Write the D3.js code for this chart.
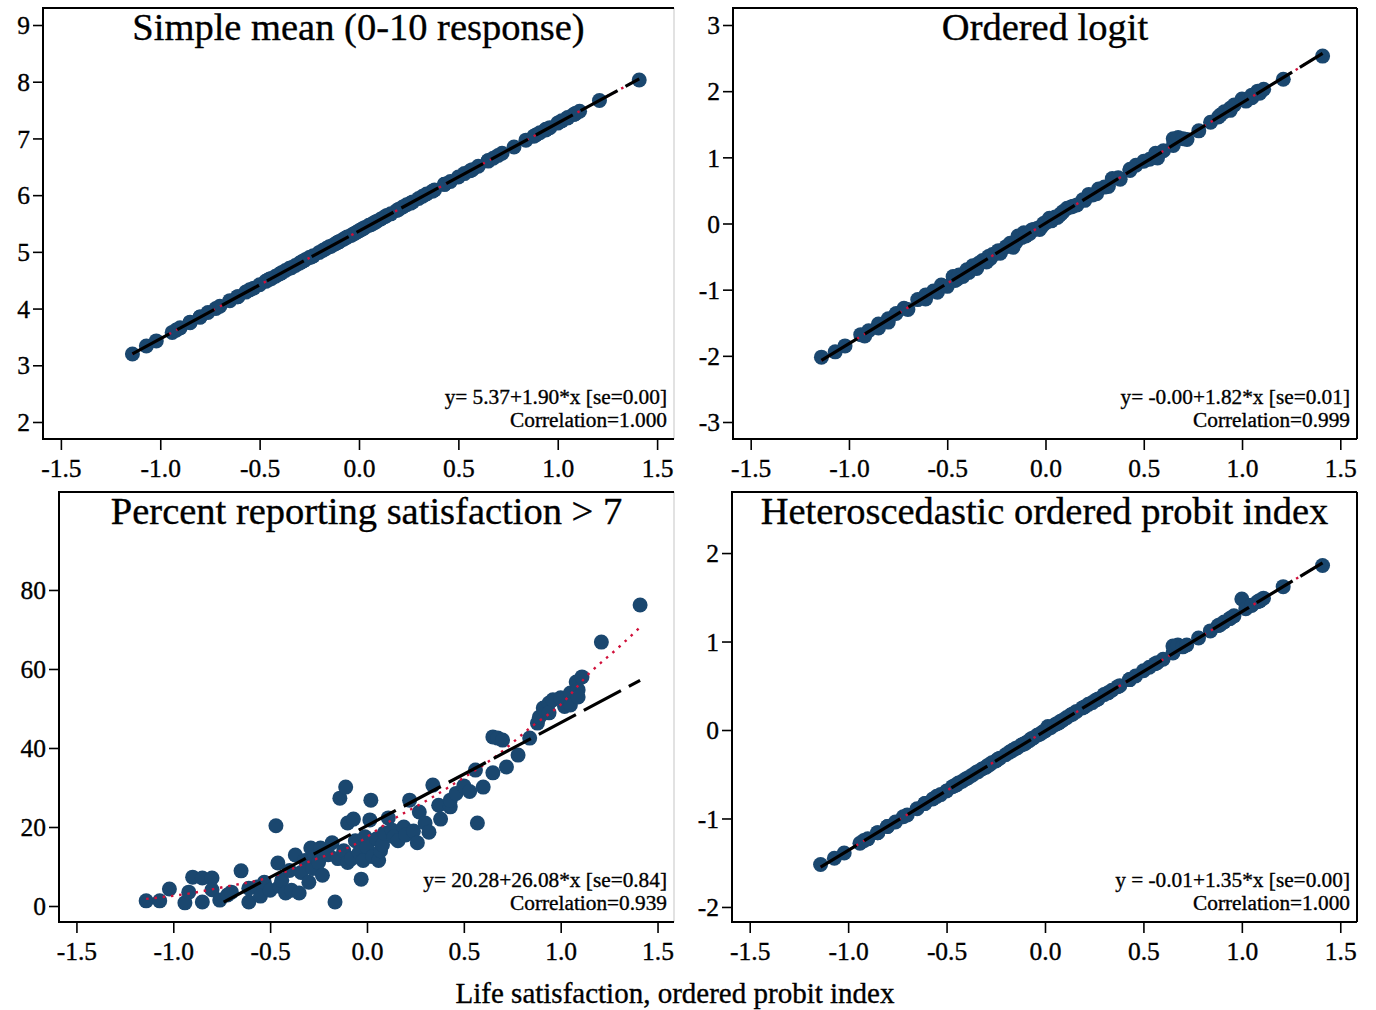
<!DOCTYPE html>
<html><head><meta charset="utf-8">
<script src="https://cdn.jsdelivr.net/npm/d3@7"></script>
<style>
html,body{margin:0;padding:0;background:#fff;}
svg{display:block;font-family:"Liberation Serif","Times New Roman",serif;}
svg text{stroke:#000;stroke-width:0.35px;}
</style></head>
<body>
<svg id="chart" width="1376" height="1010"></svg>
<script>
// Life satisfaction, ordered probit index (x, shared by all panels)
const probitIndex = [-1.14,-1.07,-1.02,-0.94,-0.92,-0.90,-0.85,-0.85,-0.80,-0.80,-0.76,-0.72,-0.70,-0.65,-0.61,-0.61,-0.57,-0.55,-0.53,-0.50,
 -0.47,-0.46,-0.45,-0.44,-0.42,-0.40,-0.39,-0.37,-0.35,-0.34,-0.32,-0.30,-0.29,-0.28,-0.27,-0.25,-0.24,-0.23,-0.20,-0.18,
 -0.165,-0.15,-0.14,-0.12,-0.11,-0.10,-0.10,-0.08,-0.07,-0.06,-0.04,-0.03,-0.02,-0.01,0.00,0.015,0.02,0.03,0.05,0.06,
 0.07,0.08,0.09,0.11,0.13,0.14,0.16,0.19,0.20,0.22,0.24,0.26,0.27,0.30,0.32,0.34,0.37,0.38,0.43,0.43,
 0.46,0.50,0.53,0.56,0.57,0.60,0.65,0.65,0.675,0.70,0.72,0.78,0.84,0.88,0.89,0.91,0.94,0.94,0.96,1.00,
 1.02,1.05,1.05,1.08,1.09,1.09,1.11,1.21,1.41];
// Simple mean (0-10 response)
const simpleMean = [3.20,3.34,3.43,3.58,3.62,3.66,3.76,3.75,3.85,3.85,3.93,4.00,4.04,4.14,4.21,4.21,4.29,4.33,4.36,4.42,
 4.48,4.50,4.52,4.53,4.57,4.61,4.63,4.67,4.71,4.72,4.76,4.80,4.82,4.84,4.86,4.90,4.91,4.93,4.99,5.03,
 5.06,5.09,5.10,5.14,5.16,5.18,5.18,5.22,5.24,5.26,5.29,5.31,5.33,5.35,5.37,5.40,5.41,5.43,5.47,5.48,
 5.50,5.52,5.54,5.58,5.62,5.64,5.67,5.73,5.75,5.79,5.83,5.86,5.88,5.94,5.98,6.02,6.07,6.09,6.19,6.19,
 6.24,6.32,6.38,6.43,6.45,6.51,6.61,6.60,6.65,6.70,6.74,6.85,6.97,7.04,7.06,7.10,7.16,7.15,7.19,7.27,
 7.31,7.37,7.36,7.42,7.44,7.44,7.48,7.67,8.03];
// Ordered logit
const orderedLogit = [-2.02,-1.94,-1.85,-1.68,-1.70,-1.62,-1.52,-1.58,-1.44,-1.49,-1.36,-1.28,-1.30,-1.15,-1.08,-1.14,-1.02,-1.04,-0.93,-0.95,
 -0.80,-0.86,-0.84,-0.78,-0.80,-0.70,-0.74,-0.64,-0.68,-0.60,-0.56,-0.58,-0.50,-0.53,-0.47,-0.45,-0.41,-0.45,-0.35,-0.30,
 -0.36,-0.28,-0.19,-0.21,-0.14,-0.15,-0.19,-0.15,-0.10,-0.09,-0.07,-0.09,-0.05,0.00,0.01,0.05,0.08,0.04,0.10,0.09,
 0.12,0.15,0.18,0.23,0.25,0.26,0.28,0.36,0.35,0.44,0.43,0.45,0.52,0.55,0.56,0.68,0.69,0.67,0.80,0.82,
 0.88,0.94,0.97,1.06,0.99,1.10,1.18,1.28,1.30,1.28,1.27,1.40,1.53,1.61,1.64,1.69,1.74,1.71,1.79,1.88,
 1.85,1.94,1.90,2.00,1.99,1.97,2.03,2.18,2.53];
// Percent reporting satisfaction > 7
const pctAbove7 = [1.3,1.3,4.3,0.8,3.5,7.3,7.1,1.0,7.1,4.1,1.5,2.8,3.5,8.9,1.0,4.5,4.8,2.5,6.0,4.0,
 20.3,10.9,5.0,6.5,3.3,9.0,4.0,12.9,3.3,8.5,11.5,6.0,14.7,9.5,12.5,11.0,14.7,7.8,13.0,16.0,
 1.0,12.0,27.3,14.0,30.1,21.0,11.0,12.0,22.0,16.5,13.5,6.8,11.5,17.5,15.0,21.8,26.8,12.5,17.0,11.5,
 14.0,15.5,18.5,22.3,19.2,17.5,16.5,20.0,18.0,26.8,19.0,16.0,23.8,21.0,18.7,30.6,25.5,22.0,25.1,26.8,
 28.5,30.4,29.0,34.4,21.0,30.1,33.7,42.8,42.5,42.0,35.2,38.2,42.5,46.3,47.8,50.1,51.4,48.9,52.2,52.7,
 50.5,53.9,50.9,56.7,54.7,52.9,58.0,66.8,76.2];
// Heteroscedastic ordered probit index
const hetProbit = [-1.52,-1.45,-1.39,-1.28,-1.25,-1.23,-1.16,-1.16,-1.09,-1.09,-1.04,-0.98,-0.96,-0.89,-0.83,-0.83,-0.78,-0.75,-0.73,-0.69,
 -0.64,-0.63,-0.62,-0.60,-0.58,-0.55,-0.54,-0.51,-0.48,-0.47,-0.44,-0.42,-0.40,-0.39,-0.37,-0.35,-0.33,-0.32,-0.28,-0.25,
 -0.23,-0.21,-0.20,-0.17,-0.16,-0.15,-0.15,-0.12,-0.10,-0.09,-0.06,-0.05,-0.04,-0.02,-0.01,0.04,0.02,0.03,0.06,0.07,
 0.08,0.10,0.11,0.14,0.17,0.18,0.21,0.25,0.26,0.29,0.31,0.34,0.35,0.40,0.42,0.45,0.49,0.50,0.57,0.57,
 0.61,0.67,0.71,0.75,0.76,0.80,0.87,0.95,0.96,0.94,0.96,1.04,1.12,1.18,1.19,1.22,1.26,1.26,1.29,1.48,
 1.37,1.41,1.41,1.45,1.46,1.46,1.49,1.62,1.86];

// Linear fit lines (endpoints) and smoothed curves
const fitX_mean = [-1.14, 1.41], fitY_mean = [3.20, 8.05];
const fitX_logit = [-1.14, 1.41], fitY_logit = [-2.07, 2.57];
const fitX_pct = [-0.74, 1.41], fitY_pct = [1.0, 57.1];
const fitX_het = [-1.14, 1.41], fitY_het = [-1.55, 1.89];
const smoothX_pct = [-1.14,-0.90,-0.74,-0.50,-0.28,-0.07,0.13,0.33,0.48,0.66,0.86,1.00,1.15,1.30,1.41];
const smoothY_pct = [1.8,3.3,4.8,7.3,11.6,15.4,21.8,27.3,31.9,37.7,45.8,51.0,59.0,65.5,70.6];

const xTicks = [-1.5,-1.0,-0.5,0.0,0.5,1.0,1.5];
const xTickLabels = ["-1.5","-1.0","-0.5","0.0","0.5","1.0","1.5"];

const panels = [
  {title:"Simple mean (0-10 response)", y:simpleMean, box:[43,8,674,439], yDom:[1.70,9.30],
   yTicks:[2,3,4,5,6,7,8,9], fx:fitX_mean, fy:fitY_mean, sx:fitX_mean, sy:fitY_mean,
   note:["y= 5.37+1.90*x [se=0.00]","Correlation=1.000"], rightGrey:true},
  {title:"Ordered logit", y:orderedLogit, box:[733,8,1357,439], yDom:[-3.257,3.257],
   yTicks:[-3,-2,-1,0,1,2,3], fx:fitX_logit, fy:fitY_logit, sx:fitX_logit, sy:fitY_logit,
   note:["y= -0.00+1.82*x [se=0.01]","Correlation=0.999"], rightGrey:false},
  {title:"Percent reporting satisfaction > 7", y:pctAbove7, box:[59,492,674,922], yDom:[-4.05,104.8],
   yTicks:[0,20,40,60,80], fx:fitX_pct, fy:fitY_pct, sx:smoothX_pct, sy:smoothY_pct,
   note:["y= 20.28+26.08*x [se=0.84]","Correlation=0.939"], rightGrey:true},
  {title:"Heteroscedastic ordered probit index", y:hetProbit, box:[732,492,1357,922], yDom:[-2.17,2.69],
   yTicks:[-2,-1,0,1,2], fx:fitX_het, fy:fitY_het, sx:fitX_het, sy:fitY_het,
   note:["y = -0.01+1.35*x [se=0.00]","Correlation=1.000"], rightGrey:false}
];

const svg = d3.select("#chart");
const dotColor = "#1a476f", redColor = "#d0103a";

panels.forEach(p => {
  const [x0,y0,x1,y1] = p.box;
  const x = d3.scaleLinear().domain([-1.59,1.585]).range([x0,x1]);
  const y = d3.scaleLinear().domain(p.yDom).range([y1,y0]);
  const g = svg.append("g");

  // frame
  g.append("path").attr("d",`M${x1},${y0}V${y1}`).attr("stroke",p.rightGrey?"#d9d9d9":"#000")
    .attr("stroke-width",p.rightGrey?1.5:2).attr("fill","none");
  g.append("path").attr("d",`M${x1},${y0}H${x0}V${y1}H${x1}`).attr("stroke","#000")
    .attr("stroke-width",2).attr("fill","none");

  // axes
  const xa = d3.axisBottom(x).tickValues(xTicks).tickSize(11).tickSizeOuter(0)
    .tickFormat((d,i)=>xTickLabels[i]);
  const gx = g.append("g").attr("transform",`translate(0,${y1})`).call(xa);
  gx.select(".domain").remove();
  gx.selectAll(".tick line").attr("stroke","#000").attr("stroke-width",1.6);
  gx.selectAll(".tick text").attr("font-size",25.5).attr("fill","#000")
    .attr("font-family","Liberation Serif, serif").attr("dy","1.05em").attr("y",11);

  const ya = d3.axisLeft(y).tickValues(p.yTicks).tickSize(10).tickSizeOuter(0)
    .tickFormat(d => String(d));
  const gy = g.append("g").attr("transform",`translate(${x0},0)`).call(ya);
  gy.select(".domain").remove();
  gy.selectAll(".tick line").attr("stroke","#000").attr("stroke-width",1.6);
  gy.selectAll(".tick text").attr("font-size",25.5).attr("fill","#000")
    .attr("font-family","Liberation Serif, serif").attr("x",-13).attr("dy","0.34em");

  // points
  const clip = "clip"+x0+"_"+y0;
  svg.append("clipPath").attr("id",clip).append("rect")
    .attr("x",x0+1).attr("y",y0+1).attr("width",x1-x0-2).attr("height",y1-y0-2);
  const pg = g.append("g").attr("clip-path",`url(#${clip})`);
  pg.selectAll("circle").data(probitIndex).join("circle")
    .attr("cx",d=>x(d)).attr("cy",(d,i)=>y(p.y[i])).attr("r",7.5).attr("fill",dotColor);

  // smoothed curve (red dotted)
  const sm = p.sx.map((v,i)=>[v,p.sy[i]]);
  pg.append("path").datum(sm)
    .attr("d",d3.line().x(d=>x(d[0])).y(d=>y(d[1])).curve(d3.curveMonotoneX))
    .attr("fill","none").attr("stroke",redColor).attr("stroke-width",2.4)
    .attr("stroke-dasharray","2.5,5.8");

  // linear fit (black dashed)
  const fit = p.fx.map((v,i)=>[v,p.fy[i]]);
  pg.append("path").datum(fit)
    .attr("d",d3.line().x(d=>x(d[0])).y(d=>y(d[1])))
    .attr("fill","none").attr("stroke","#000").attr("stroke-width",3.2)
    .attr("stroke-dasharray","42,9");

  // title
  g.append("text").attr("x",(x0+x1)/2).attr("y",y0+32).attr("text-anchor","middle")
    .attr("font-size",38.5).attr("fill","#000").text(p.title);

  // annotation
  g.append("text").attr("x",x1-7).attr("y",y1-35).attr("text-anchor","end")
    .attr("font-size",21.3).attr("fill","#000").text(p.note[0]);
  g.append("text").attr("x",x1-7).attr("y",y1-12).attr("text-anchor","end")
    .attr("font-size",21.3).attr("fill","#000").text(p.note[1]);
});

svg.append("text").attr("x",675).attr("y",1003).attr("text-anchor","middle")
  .attr("font-size",29).attr("fill","#000").text("Life satisfaction, ordered probit index");
</script>
</body></html>
